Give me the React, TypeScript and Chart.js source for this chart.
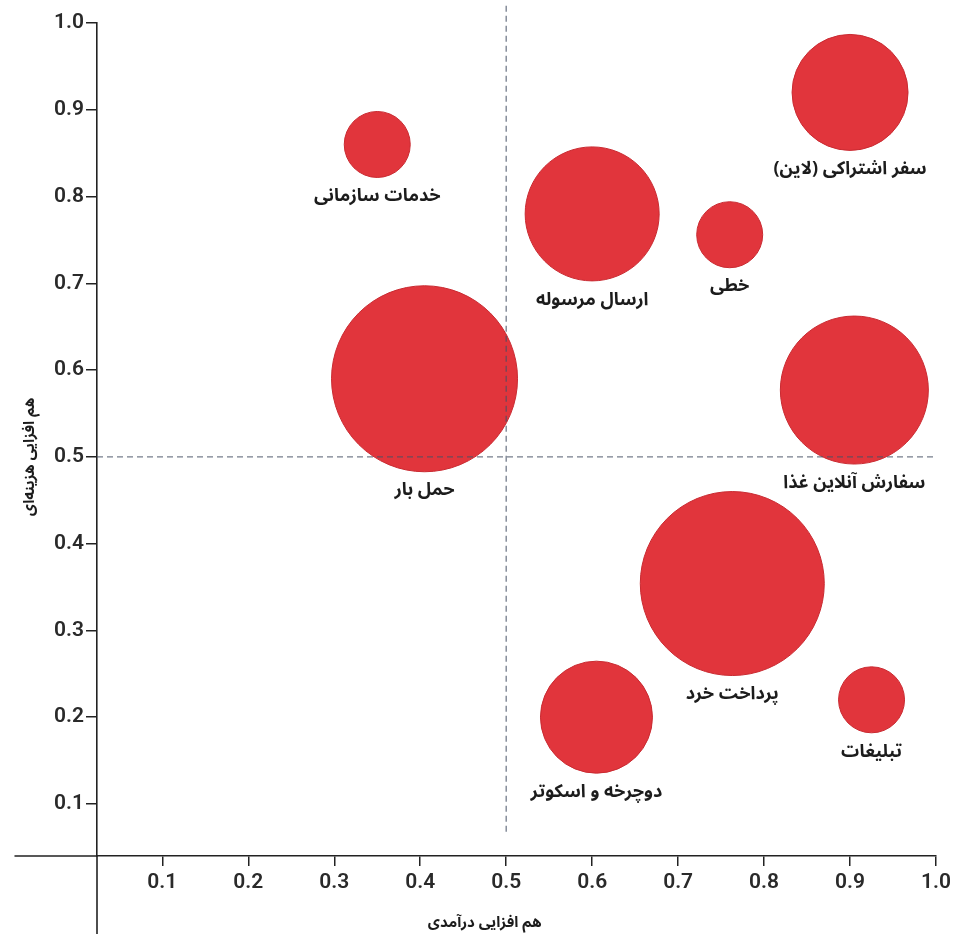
import React, { useEffect, useRef } from 'react';
import { Chart, registerables } from 'chart.js';

Chart.register(...registerables);

// ---- data ----
const names = [
  'خدمات سازمانی',
  'ارسال مرسوله',
  'خطی',
  'سفر اشتراکی (لاین)',
  'حمل بار',
  'سفارش آنلاین غذا',
  'پرداخت خرد',
  'دوچرخه و اسکوتر',
  'تبلیغات',
];
const revenueSynergy = [0.35, 0.6, 0.76, 0.9, 0.405, 0.905, 0.763, 0.605, 0.925];
const costSynergy = [0.86, 0.78, 0.756, 0.92, 0.59, 0.577, 0.354, 0.2, 0.22];
const bubbleSize = [33, 67, 33, 58, 93, 74, 92, 56, 33];
const tickValues = [0.1, 0.2, 0.3, 0.4, 0.5, 0.6, 0.7, 0.8, 0.9, 1.0];
const xTitle = 'هم افزایی درآمدی';
const yTitle = 'هم افزایی هزینه‌ای';
const thresholdX = 0.5;
const thresholdY = 0.5;

const ARABIC_FONT = "'Noto Sans Arabic', 'DejaVu Sans', sans-serif";
const AXIS_COLOR = '#222';

// axis stubs beyond the crossing point + quadrant dashed lines
const axisExtras = {
  id: 'axisExtras',
  afterDatasetsDraw(chart: any) {
    const { ctx, scales } = chart;
    const xs = scales.x;
    const ys = scales.y;
    ctx.save();
    ctx.strokeStyle = AXIS_COLOR;
    ctx.lineWidth = 1.6;
    ctx.beginPath();
    ctx.moveTo(xs.getPixelForValue(-0.072), ys.bottom);
    ctx.lineTo(xs.left, ys.bottom);
    ctx.moveTo(xs.left, ys.bottom);
    ctx.lineTo(xs.left, ys.getPixelForValue(-0.05));
    ctx.stroke();
    ctx.strokeStyle = 'rgba(70, 80, 100, 0.75)';
    ctx.lineWidth = 1.3;
    ctx.setLineDash([6, 4]);
    const vx = xs.getPixelForValue(thresholdX);
    ctx.beginPath();
    ctx.moveTo(vx, ys.getPixelForValue(1.02));
    ctx.lineTo(vx, ys.getPixelForValue(0.065));
    ctx.stroke();
    const hy = ys.getPixelForValue(thresholdY);
    ctx.beginPath();
    ctx.moveTo(xs.left, hy);
    ctx.lineTo(xs.getPixelForValue(1.0), hy);
    ctx.stroke();
    ctx.restore();
  },
};

const bubbleLabels = {
  id: 'bubbleLabels',
  afterDatasetsDraw(chart: any) {
    const { ctx } = chart;
    const meta = chart.getDatasetMeta(0);
    ctx.save();
    ctx.font = `bold 18px ${ARABIC_FONT}`;
    ctx.fillStyle = '#1c1c1c';
    ctx.textAlign = 'center';
    ctx.textBaseline = 'middle';
    (ctx as any).direction = 'rtl';
    meta.data.forEach((el: any, i: number) => {
      const r = el.options.radius;
      ctx.fillText(names[i], el.x, el.y + r + 21);
    });
    ctx.restore();
  },
};

const axisTitles = {
  id: 'axisTitles',
  afterDraw(chart: any) {
    const { ctx, scales } = chart;
    ctx.save();
    ctx.font = `bold 15px ${ARABIC_FONT}`;
    ctx.fillStyle = '#1c1c1c';
    ctx.textAlign = 'center';
    ctx.textBaseline = 'middle';
    (ctx as any).direction = 'rtl';
    ctx.fillText(xTitle, scales.x.getPixelForValue(0.475), chart.height - 17);
    ctx.translate(32, scales.y.getPixelForValue(0.5));
    ctx.rotate(-Math.PI / 2);
    ctx.fillText(yTitle, 0, 0);
    ctx.restore();
  },
};

export default function App() {
  const canvasRef = useRef<HTMLCanvasElement | null>(null);

  useEffect(() => {
    document.body.style.margin = '0';
    const canvas = canvasRef.current;
    if (!canvas) return;

    const tickFont = { family: 'Roboto, sans-serif', size: 21, weight: '600' as any };

    const chart = new Chart(canvas, {
      type: 'bubble',
      data: {
        datasets: [
          {
            label: 'synergy',
            data: names.map((_, i) => ({
              x: revenueSynergy[i],
              y: costSynergy[i],
              r: bubbleSize[i],
            })),
            backgroundColor: '#e1353c',
            borderColor: '#c92a31',
            borderWidth: 1,
            clip: false as any,
          },
        ],
      },
      options: {
        responsive: false,
        animation: false,
        layout: { autoPadding: false, padding: { left: 0, right: 15, top: 23, bottom: 0 } },
        plugins: {
          legend: { display: false },
          tooltip: { enabled: false },
        },
        scales: {
          x: {
            type: 'linear',
            position: 'bottom',
            min: 0.024,
            max: 1.0,
            afterBuildTicks: (s: any) => {
              s.ticks = tickValues.map((v) => ({ value: v }));
            },
            afterFit: (s: any) => {
              s.height = 86;
            },
            grid: {
              drawOnChartArea: false,
              drawTicks: true,
              tickLength: 10,
              color: AXIS_COLOR,
              lineWidth: 1.5,
            },
            border: { display: true, color: AXIS_COLOR, width: 1.6 },
            ticks: {
              autoSkip: false,
              maxRotation: 0,
              padding: 4,
              color: '#2a2a2a',
              font: tickFont,
              callback: (v: any) => Number(v).toFixed(1),
            },
          },
          y: {
            type: 'linear',
            position: 'left',
            min: 0.04,
            max: 1.0,
            afterBuildTicks: (s: any) => {
              s.ticks = tickValues.map((v) => ({ value: v }));
            },
            afterFit: (s: any) => {
              s.width = 97;
            },
            grid: {
              drawOnChartArea: false,
              drawTicks: true,
              tickLength: 11,
              color: AXIS_COLOR,
              lineWidth: 1.5,
            },
            border: { display: true, color: AXIS_COLOR, width: 1.6 },
            ticks: {
              autoSkip: false,
              padding: 2,
              color: '#2a2a2a',
              font: tickFont,
              callback: (v: any) => Number(v).toFixed(1),
            },
          },
        },
      },
      plugins: [axisExtras, bubbleLabels, axisTitles],
    });

    return () => {
      chart.destroy();
    };
  }, []);

  return (
    <div style={{ width: 955, height: 942 }}>
      <canvas ref={canvasRef} width={955} height={942} style={{ display: 'block' }} />
    </div>
  );
}
